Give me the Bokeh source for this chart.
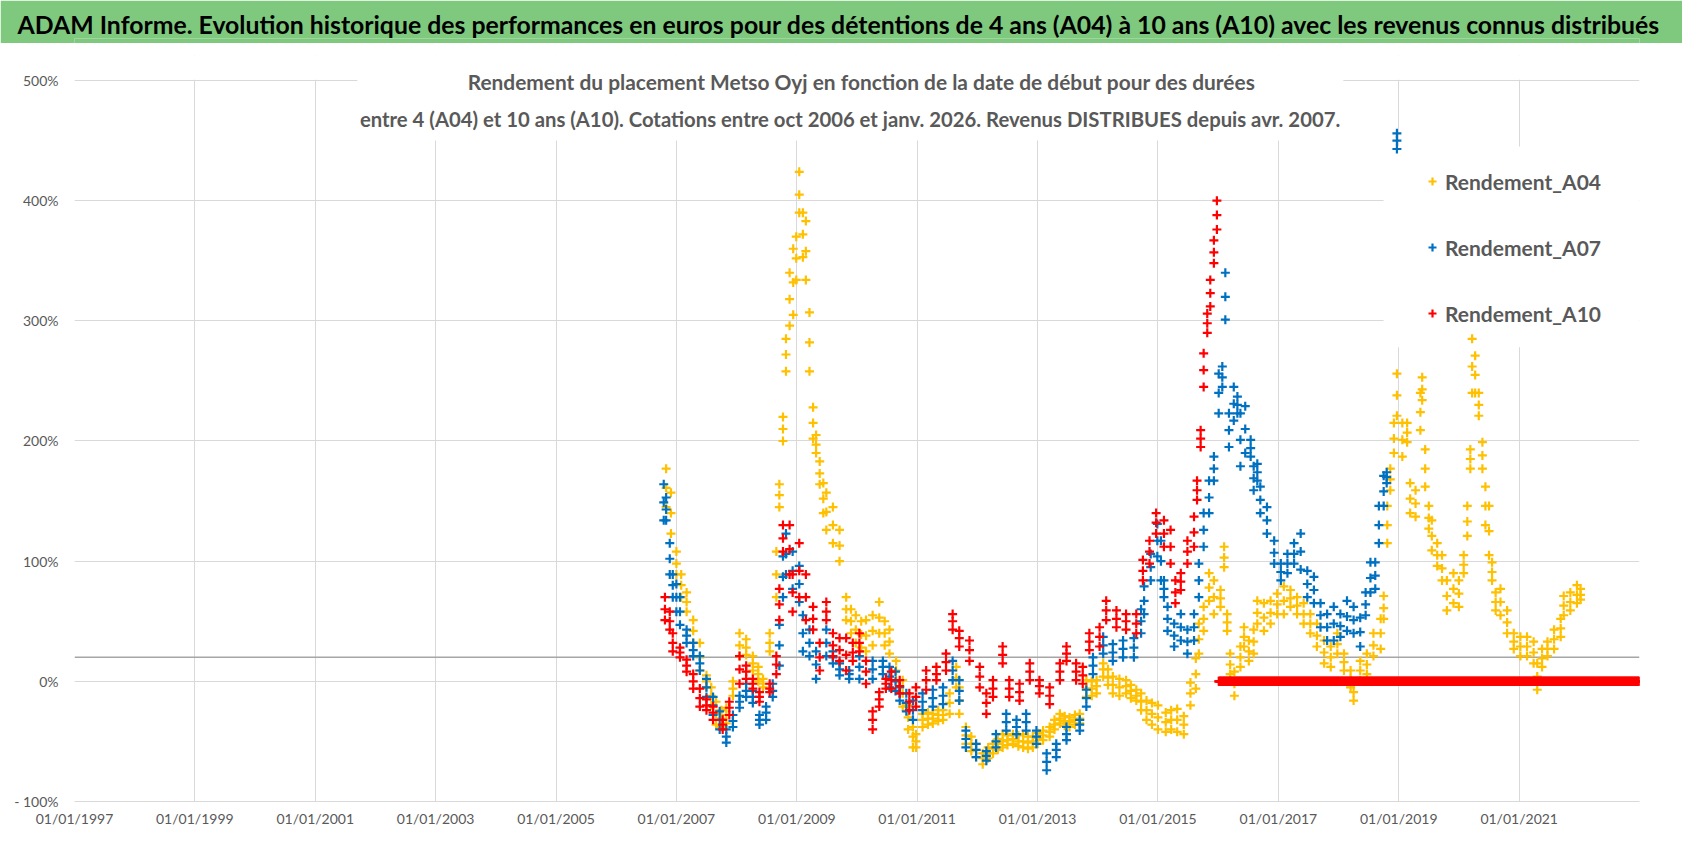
import numpy as np
import pandas as pd
from bokeh.plotting import figure
from bokeh.models import (Range1d, FixedTicker, DatetimeTickFormatter, CustomJSTickFormatter,
                          Span, Legend, LegendItem, Label, BoxAnnotation, Title)
from bokeh.layouts import column
from bokeh.embed import file_html
from bokeh.resources import INLINE

FONT = "Lato"
GREEN = "#7FC97F"
TXT = "#595959"
GRID = "#D9D9D9"
C04, C07, C10 = "#FFC000", "#0070C0", "#FF0000"

TITLE = ("ADAM Informe. Evolution historique des performances en euros pour des détentions "
         "de 4 ans (A04) à 10 ans (A10) avec les revenus connus distribués")
SUB1 = "Rendement du placement Metso Oyj en fonction de la date de début pour des durées"
SUB2 = ("entre 4 (A04) et 10 ans (A10). Cotations entre oct 2006 et janv. 2026. "
        "Revenus DISTRIBUES depuis avr. 2007.")
SERIES_NAMES = ["Rendement_A04", "Rendement_A07", "Rendement_A10"]
X_TICK_YEARS = [1997, 1999, 2001, 2003, 2005, 2007, 2009, 2011, 2013, 2015, 2017, 2019, 2021]
Y_TICKS = [-100, 0, 100, 200, 300, 400, 500]

# ---- values: start date (decimal year), point cloud low / centre / high (%) ----
a04_t = [2006.83, 2006.91, 2007.0, 2007.08, 2007.17, 2007.28, 2007.39, 2007.5, 2007.58, 2007.66,
         2007.75, 2007.83, 2007.94, 2008.05, 2008.16, 2008.27, 2008.36, 2008.44, 2008.55, 2008.66,
         2008.71, 2008.77, 2008.82, 2008.88, 2008.94, 2008.99, 2009.04, 2009.1, 2009.15, 2009.21,
         2009.27, 2009.32, 2009.38, 2009.44, 2009.49, 2009.6, 2009.71, 2009.82, 2009.9, 2009.98,
         2010.07, 2010.15, 2010.26, 2010.37, 2010.46, 2010.54, 2010.65, 2010.76, 2010.85, 2010.93,
         2010.98, 2011.09, 2011.18, 2011.26, 2011.35, 2011.43, 2011.54, 2011.65, 2011.7, 2011.81,
         2011.9, 2011.98, 2012.09, 2012.18, 2012.26, 2012.34, 2012.42, 2012.5, 2012.59, 2012.68,
         2012.76, 2012.84, 2012.92, 2013.0, 2013.09, 2013.2, 2013.28, 2013.37, 2013.45, 2013.53,
         2013.62, 2013.7, 2013.81, 2013.9, 2013.98, 2014.09, 2014.17, 2014.25, 2014.36, 2014.47,
         2014.55, 2014.64, 2014.72, 2014.81, 2014.9, 2015.0, 2015.13, 2015.22, 2015.32, 2015.43,
         2015.54, 2015.63, 2015.68, 2015.76, 2015.85, 2015.93, 2016.04, 2016.1, 2016.15, 2016.2,
         2016.27, 2016.37, 2016.43, 2016.51, 2016.59, 2016.65, 2016.76, 2016.87, 2016.98, 2017.09,
         2017.2, 2017.31, 2017.42, 2017.53, 2017.64, 2017.76, 2017.87, 2017.98, 2018.09, 2018.2,
         2018.25, 2018.36, 2018.47, 2018.58, 2018.7, 2018.75, 2018.81, 2018.86, 2018.92, 2018.97,
         2019.06, 2019.14, 2019.19, 2019.28, 2019.36, 2019.39, 2019.44, 2019.5, 2019.55, 2019.64,
         2019.72, 2019.8, 2019.91, 2020.0, 2020.08, 2020.14, 2020.19, 2020.22, 2020.27, 2020.33,
         2020.39, 2020.44, 2020.5, 2020.55, 2020.61, 2020.69, 2020.8, 2020.91, 2021.02, 2021.13,
         2021.24, 2021.3, 2021.38, 2021.47, 2021.58, 2021.69, 2021.74, 2021.85, 2021.96, 2022.02]
a04_lo = [145, 123, 89, 70, 58, 32, 9, -5, -20, -36,
          -38, -35, -12, 21, 22, 9, 0, -5, 25, 70,
          145, 200, 258, 296, 305, 334, 390, 353, 334, 258,
          202, 190, 164, 140, 126, 115, 100, 51, 40, 32,
          28, 25, 30, 40, 30, 23, 1, -21, -40, -55,
          -55, -38, -36, -35, -33, -32, -27, -5, -27, -52,
          -58, -63, -69, -64, -60, -57, -55, -53, -52, -54,
          -55, -56, -55, -52, -49, -46, -40, -35, -37, -38,
          -36, -35, -13, -12, -10, 4, -3, -10, -12, -10,
          -14, -16, -24, -32, -36, -40, -42, -40, -42, -44,
          -20, -6, 23, 42, 67, 56, 62, 95, 42, 6,
          -12, 12, 29, 17, 23, 48, 42, 48, 56, 56,
          62, 56, 48, 40, 29, 15, 12, 23, 9, -5,
          -16, 1, 6, 21, 27, 52, 115, 159, 190, 221,
          187, 199, 140, 137, 209, 234, 162, 127, 109, 96,
          84, 59, 65, 62, 90, 121, 177, 240, 240, 221,
          177, 130, 105, 84, 59, 55, 40, 27, 21, 21,
          15, -7, 12, 21, 27, 37, 55, 59, 65, 68]
a04_mid = [161, 140, 98, 80, 66, 42, 20, 0, -12, -27,
           -31, -28, -6, 30, 28, 15, 6, -2, 32, 89,
           155, 210, 272, 318, 332, 352, 405, 372, 358, 282,
           215, 197, 173, 152, 141, 130, 113, 60, 50, 43,
           39, 38, 42, 53, 40, 33, 9, -10, -30, -46,
           -50, -32, -31, -31, -28, -28, -18, 3, -16, -45,
           -52, -57, -64, -60, -56, -52, -50, -49, -48, -50,
           -50, -51, -50, -47, -45, -42, -36, -31, -33, -34,
           -32, -31, -6, -6, -4, 10, 3, -3, -5, -4,
           -8, -12, -17, -24, -27, -30, -34, -32, -32, -36,
           -10, 6, 35, 52, 78, 70, 69, 103, 49, 14,
           -2, 20, 37, 25, 33, 57, 53, 57, 64, 67,
           69, 63, 56, 48, 38, 24, 20, 31, 16, 2,
           -9, 9, 14, 30, 40, 61, 130, 168, 202, 238,
           201, 207, 152, 148, 224, 243, 177, 136, 121, 105,
           94, 71, 77, 73, 97, 133, 185, 262, 255, 230,
           188, 146, 125, 91, 66, 66, 49, 33, 29, 29,
           24, 4, 19, 27, 35, 44, 63, 66, 72, 72]
a04_hi = [177, 157, 108, 89, 74, 51, 32, 5, -5, -17,
          -24, -22, 0, 40, 35, 21, 12, 2, 40, 108,
          164, 220, 285, 340, 360, 370, 424, 390, 383, 307,
          228, 205, 183, 165, 157, 145, 126, 70, 60, 55,
          50, 51, 55, 66, 50, 43, 17, 1, -20, -38,
          -44, -27, -26, -27, -24, -24, -10, 12, -5, -38,
          -46, -52, -60, -55, -52, -48, -44, -45, -44, -45,
          -44, -46, -46, -43, -41, -38, -32, -27, -29, -30,
          -28, -27, 1, 0, 1, 15, 10, 4, 2, 1,
          -3, -7, -10, -16, -18, -20, -26, -24, -23, -29,
          -1, 19, 48, 62, 90, 84, 76, 112, 56, 23,
          8, 29, 45, 34, 43, 67, 65, 67, 73, 79,
          76, 70, 65, 56, 48, 34, 29, 40, 23, 9,
          -2, 17, 23, 40, 52, 71, 146, 177, 215, 256,
          215, 215, 165, 159, 240, 253, 193, 146, 134, 115,
          105, 84, 90, 84, 105, 146, 193, 285, 271, 240,
          199, 162, 146, 99, 74, 77, 59, 40, 37, 37,
          33, 15, 27, 33, 43, 52, 71, 74, 80, 77]

a07_t = [2006.79, 2006.83, 2006.89, 2006.94, 2007.0, 2007.06, 2007.17, 2007.28, 2007.39, 2007.5,
         2007.61, 2007.72, 2007.83, 2007.94, 2008.05, 2008.16, 2008.27, 2008.38, 2008.49, 2008.6,
         2008.71, 2008.77, 2008.82, 2008.93, 2009.04, 2009.1, 2009.21, 2009.32, 2009.49, 2009.6,
         2009.71, 2009.87, 2010.04, 2010.26, 2010.43, 2010.54, 2010.64, 2010.71, 2010.82, 2010.93,
         2011.09, 2011.26, 2011.43, 2011.59, 2011.7, 2011.81, 2011.98, 2012.15, 2012.31, 2012.48,
         2012.65, 2012.81, 2012.98, 2013.15, 2013.31, 2013.48, 2013.7, 2013.81, 2013.92, 2014.09,
         2014.25, 2014.42, 2014.6, 2014.72, 2014.77, 2014.88, 2014.99, 2015.05, 2015.1, 2015.16,
         2015.27, 2015.38, 2015.49, 2015.6, 2015.68, 2015.76, 2015.85, 2015.93, 2016.01, 2016.07,
         2016.12, 2016.18, 2016.26, 2016.32, 2016.37, 2016.45, 2016.54, 2016.59, 2016.65, 2016.7,
         2016.81, 2016.93, 2017.04, 2017.15, 2017.26, 2017.37, 2017.48, 2017.59, 2017.7, 2017.81,
         2017.92, 2018.03, 2018.14, 2018.25, 2018.36, 2018.45, 2018.53, 2018.61, 2018.67, 2018.75,
         2018.8, 2018.97]
a07_lo = [134, 134, 89, 70, 58, 47, 32, 21, 9, -13,
          -28, -40, -51, -38, -22, -13, -18, -36, -32, -13,
          13, 70, 89, 77, 66, 25, 21, 2, 21, 15,
          5, 2, 2, 2, 6, -5, -8, -16, -25, -32,
          -24, -21, -19, 1, -16, -55, -63, -66, -55, -41,
          -44, -41, -52, -74, -63, -49, -41, -21, 6, 23,
          17, 20, 20, 40, 56, 84, 104, 84, 70, 42,
          29, 34, 23, 34, 70, 112, 140, 167, 223, 245,
          301, 195, 217, 223, 179, 190, 187, 159, 167, 140,
          123, 98, 84, 90, 98, 93, 70, 65, 45, 34,
          34, 37, 42, 40, 29, 55, 74, 77, 115, 146,
          165, 443]
a07_mid = [149, 143, 102, 80, 70, 58, 38, 26, 15, -5,
           -20, -32, -46, -33, -17, -8, -13, -32, -26, -8,
           30, 87, 106, 92, 81, 40, 32, 14, 32, 20,
           10, 6, 12, 10, 12, 4, 0, -10, -18, -24,
           -17, -14, -12, 9, -8, -48, -57, -62, -50, -34,
           -38, -34, -46, -67, -57, -44, -36, -14, 13, 30,
           24, 27, 28, 50, 67, 95, 117, 100, 77, 52,
           38, 45, 33, 45, 84, 126, 153, 177, 240, 253,
           320, 209, 231, 230, 201, 210, 194, 169, 174, 151,
           134, 107, 91, 98, 106, 108, 81, 76, 55, 45,
           48, 46, 54, 51, 41, 64, 86, 88, 130, 158,
           170, 450]
a07_hi = [164, 153, 115, 89, 81, 70, 43, 32, 21, 2,
          -13, -25, -40, -28, -12, -2, -8, -28, -21, -2,
          47, 104, 123, 108, 96, 55, 43, 25, 43, 25,
          15, 9, 21, 17, 17, 12, 8, -5, -10, -16,
          -10, -7, -5, 17, 1, -41, -52, -58, -44, -27,
          -32, -27, -41, -60, -52, -38, -32, -7, 20, 37,
          31, 34, 36, 60, 79, 106, 131, 117, 84, 62,
          48, 56, 43, 56, 98, 140, 167, 187, 256, 262,
          340, 223, 245, 237, 223, 229, 201, 179, 181, 162,
          145, 117, 98, 106, 115, 123, 92, 87, 65, 56,
          62, 56, 67, 62, 53, 74, 99, 99, 146, 171,
          174, 456]

a10_t = [2006.81, 2006.89, 2006.94, 2007.06, 2007.17, 2007.28, 2007.39, 2007.5, 2007.61, 2007.77,
         2007.88, 2008.05, 2008.16, 2008.27, 2008.38, 2008.55, 2008.66, 2008.71, 2008.77, 2008.88,
         2008.93, 2009.04, 2009.15, 2009.27, 2009.38, 2009.49, 2009.6, 2009.71, 2009.82, 2009.93,
         2010.04, 2010.15, 2010.26, 2010.37, 2010.48, 2010.57, 2010.71, 2010.87, 2010.98, 2011.15,
         2011.32, 2011.48, 2011.59, 2011.7, 2011.87, 2012.04, 2012.15, 2012.26, 2012.42, 2012.53,
         2012.7, 2012.87, 2013.03, 2013.2, 2013.37, 2013.48, 2013.64, 2013.75, 2013.86, 2014.03,
         2014.14, 2014.31, 2014.47, 2014.64, 2014.75, 2014.86, 2014.97, 2015.1, 2015.21, 2015.29,
         2015.38, 2015.49, 2015.6, 2015.65, 2015.71, 2015.76, 2015.82, 2015.87, 2015.93, 2015.98]
a10_lo = [51, 43, 25, 20, 8, -6, -21, -24, -32, -40,
          -28, -2, 2, -6, -17, -9, 6, 51, 108, 89,
          58, 70, 51, 43, 9, 51, 21, 17, 9, 17,
          25, -2, -40, -21, -6, -6, -10, -24, -21, -7,
          1, 9, 43, 29, 17, -5, -27, -13, 15, -13,
          -16, 1, -10, -19, 1, 17, 1, -2, 26, 29,
          51, 45, 43, 40, 84, 98, 123, 112, 98, 65,
          76, 98, 112, 151, 195, 245, 290, 312, 348, 376]
a10_mid = [60, 50, 32, 24, 13, 0, -14, -20, -26, -36,
           -22, 10, 8, -2, -13, -6, 14, 64, 119, 110,
           74, 92, 70, 52, 20, 58, 30, 26, 22, 24,
           32, 8, -32, -15, -2, 1, -4, -17, -13, 1,
           6, 16, 50, 36, 26, 4, -18, -6, 22, -6,
           -9, 8, -4, -12, 8, 23, 8, 5, 33, 37,
           59, 52, 50, 48, 92, 108, 132, 123, 112, 74,
           83, 108, 124, 159, 202, 259, 298, 323, 357, 388]
a10_hi = [70, 58, 40, 28, 18, 6, -6, -15, -21, -32,
          -17, 21, 13, 2, -9, -2, 21, 77, 130, 130,
          89, 115, 89, 62, 32, 66, 40, 36, 36, 32,
          40, 17, -25, -9, 2, 8, 1, -10, -5, 9,
          12, 23, 56, 42, 34, 12, -10, 1, 29, 1,
          -2, 15, 1, -5, 15, 29, 15, 12, 40, 45,
          67, 59, 56, 56, 101, 117, 140, 134, 126, 84,
          90, 117, 137, 167, 209, 273, 306, 334, 367, 400]
# A10 returns read as 0 for every start date after the 10-year window closes
a10_zero_start, a10_zero_end = "2016-01-05", "2023-01-01"


def to_dates(years):
    out = []
    for y in years:
        yr = int(np.floor(y))
        a, b = pd.Timestamp(yr, 1, 1), pd.Timestamp(yr + 1, 1, 1)
        out.append(a + (b - a) * (y - yr))
    return out


def cloud(t, lo, mid, hi):
    d = to_dates(t)
    return d + d + d, list(lo) + list(mid) + list(hi)


def ms(s):
    return pd.Timestamp(s).value // 10**6


x04, y04 = cloud(a04_t, a04_lo, a04_mid, a04_hi)
x07, y07 = cloud(a07_t, a07_lo, a07_mid, a07_hi)
x10, y10 = cloud(a10_t, a10_lo, a10_mid, a10_hi)
zdates = list(pd.date_range(a10_zero_start, a10_zero_end, freq="3D"))
x10 += zdates
y10 += [0] * len(zdates)

W = 1682


def strip(height, color):
    f = figure(width=W, height=height, x_range=Range1d(0, 1), y_range=Range1d(0, 1),
               output_backend="svg", toolbar_location=None, min_border=0,
               x_axis_location=None, y_axis_location=None)
    f.grid.visible = False
    f.outline_line_color = None
    f.background_fill_color = color
    f.border_fill_color = color
    return f


# ---- green title band + thin separator ----
top = strip(43, GREEN)
top.min_border_top = 38
top.title = Title(text=TITLE, align="left", offset=-57, standoff=0, vertical_align="bottom",
                  text_font=FONT, text_font_size="24.8px", text_font_style="bold",
                  text_color="black")
sep = strip(3, "#DEDEDE")

# ---- main chart ----
p = figure(width=W, height=795, x_axis_type="datetime",
           x_range=Range1d(pd.Timestamp("1997-01-01"), pd.Timestamp("2023-01-01")),
           y_range=Range1d(-100, 520.8), output_backend="svg", toolbar_location=None,
           min_border_left=74, min_border_right=43, min_border_top=9, min_border_bottom=40)
p.outline_line_color = None
p.background_fill_color = "white"
p.border_fill_color = "white"

p.xaxis.ticker = FixedTicker(ticks=[ms(f"{y}-01-01") for y in X_TICK_YEARS])
fmt = "%d/%m/%Y"
p.xaxis.formatter = DatetimeTickFormatter(years=fmt, months=fmt, days=fmt, hours=fmt,
                                          milliseconds=fmt, seconds=fmt, minutes=fmt,
                                          hourmin=fmt, minsec=fmt)
p.yaxis.ticker = FixedTicker(ticks=Y_TICKS)
p.yaxis.formatter = CustomJSTickFormatter(
    code="return tick < 0 ? '- ' + Math.abs(tick) + '%' : tick + '%';")
for ax in (p.xaxis[0], p.yaxis[0]):
    ax.major_tick_line_color = None
    ax.minor_tick_line_color = None
    ax.major_tick_out = 0
    ax.major_tick_in = 0
    ax.minor_tick_out = 0
    ax.major_label_text_font = FONT
    ax.major_label_text_font_size = "14px"
    ax.major_label_text_color = TXT
p.xaxis.axis_line_color = GRID
p.yaxis.axis_line_color = None
p.xaxis.major_label_standoff = 8
p.yaxis.major_label_standoff = 16
p.xgrid.grid_line_color = GRID
p.ygrid.grid_line_color = GRID

# white areas: above the 500% line, behind the subtitle, behind the legend
p.add_layout(BoxAnnotation(bottom=500.6, fill_color="white", fill_alpha=1, line_color=None,
                           level="underlay"))
p.add_layout(BoxAnnotation(left=ms("2001-09-13"), right=ms("2018-01-30"), bottom=450,
                           fill_color="white", fill_alpha=1, line_color=None, level="underlay"))
p.add_layout(BoxAnnotation(left=ms("2018-10-01"), bottom=278, top=445, fill_color="white",
                           fill_alpha=1, line_color=None, level="underlay"))
p.add_layout(Span(location=20, dimension="width", line_color="#A6A6A6", line_width=1.5,
                  level="underlay"))

r04 = p.scatter(x04, y04, marker="cross", size=9, line_width=2.2, color=C04)
r07 = p.scatter(x07, y07, marker="cross", size=9, line_width=2.2, color=C07)
r10 = p.scatter(x10, y10, marker="cross", size=9, line_width=2.2, color=C10)

p.add_layout(Label(x=ms("2010-01-28"), y=499.3, text=SUB1, text_align="center",
                   text_baseline="alphabetic", text_font=FONT, text_font_size="20.9px",
                   text_font_style="bold", text_color=TXT))
p.add_layout(Label(x=ms("2009-11-20"), y=468.2, text=SUB2, text_align="center",
                   text_baseline="alphabetic", text_font=FONT, text_font_size="20.3px",
                   text_font_style="bold", text_color=TXT))

legend = Legend(items=[LegendItem(label=n, renderers=[r]) for n, r in
                       zip(SERIES_NAMES, [r04, r07, r10])],
                location=(1348, 475), margin=0, glyph_width=20, glyph_height=26,
                label_height=26, spacing=40, padding=20, label_standoff=3,
                border_line_color=None, background_fill_color="white",
                background_fill_alpha=1.0, label_text_font=FONT, label_text_font_size="21px",
                label_text_font_style="bold", label_text_color=TXT)
p.add_layout(legend)

layout = column(top, sep, p, spacing=0)
open("out.html", "w").write(file_html(layout, INLINE))
